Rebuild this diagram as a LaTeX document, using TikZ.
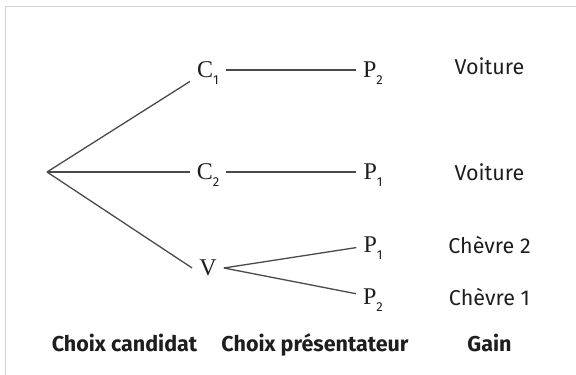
\documentclass[tikz,border=0pt]{standalone}
\usepackage{fontspec}
\setmainfont{Liberation Serif}
\newfontfamily\gainfont{Fira Sans}
\usepackage{tikz}

\definecolor{edgegray}{HTML}{4A4A4A}
\definecolor{framegray}{HTML}{D4D4D4}
\definecolor{textgray}{HTML}{1E1E1E}

% small sans index under a state letter
\newcommand{\subidx}[1]{\raisebox{-7pt}{\fontsize{13}{13}\gainfont #1}}

\begin{document}
\begin{tikzpicture}[x=1pt,y=-1pt,
		state_style/.style={inner sep=7pt,text depth=0pt,font=\fontsize{24}{26}\selectfont,text=textgray},
		gain_style/.style={anchor=base,font=\fontsize{21.5}{24}\gainfont,text=textgray},
		title_style/.style={anchor=base,font=\fontsize{21.5}{24}\gainfont\bfseries,text=textgray},
		edge_style/.style={draw=edgegray,line width=1.3pt}]
		
		\useasboundingbox (0,0) rectangle (576,375);
		\draw[framegray,line width=1.5pt] (576,6.5) -- (5.5,6.5) -- (5.5,375);
		
		\coordinate (root) at (47,172);
		\node[state_style] (c1) at (208,70)  {C\subidx{1}};
		\node[state_style] (c2) at (208,172) {C\subidx{2}};
		\node[state_style] (v) at (208,268)  {V};
		\node[state_style] (p2a) at (373,70)  {P\subidx{2}};
		\node[state_style] (p1a) at (373,172) {P\subidx{1}};
		\node[state_style] (p1b) at (373,245) {P\subidx{1}};
		\node[state_style] (p2b) at (373,297) {P\subidx{2}};
		
		\node[gain_style] (g1) at (489.5,74)  {Voiture};
		\node[gain_style] (g2) at (489.5,180) {Voiture};
		\node[gain_style] (g3) at (489.5,253) {Chèvre 2};
		\node[gain_style] (g4) at (489.5,305) {Chèvre 1};
		
		\node[title_style] (t1) at (124.5,351) {Choix candidat};
		\node[title_style] (t2) at (315,351)   {Choix présentateur};
		\node[title_style] (t3) at (489.5,351) {Gain};
		
		\draw[edge_style]  (root) edge (c1);
		\draw[edge_style]  (root) edge (c2);
		\draw[edge_style]  (root) edge (v.west);
		\draw[edge_style]  (c1) edge (p2a);
		\draw[edge_style]  (c2) edge (p1a);
		\draw[edge_style]  (v.east) edge (p1b);
		\draw[edge_style]  (v.east) edge (p2b);
		
\end{tikzpicture}
\end{document}
